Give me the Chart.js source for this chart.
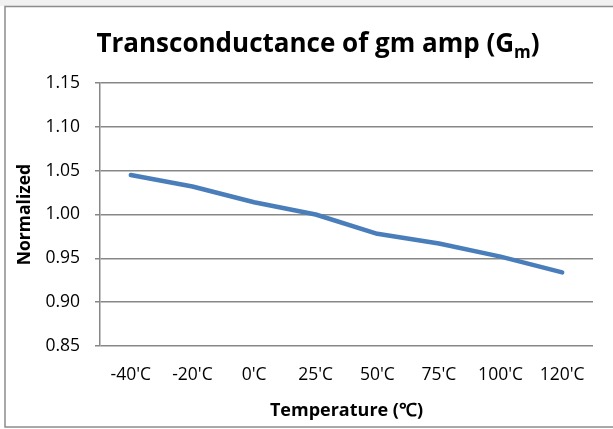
<!DOCTYPE html>
<html><head><meta charset="utf-8">
<script src="https://cdn.jsdelivr.net/npm/chart.js@4"></script>
<style>html,body{margin:0;padding:0;background:#fff}#wrap{width:613px;height:429px;position:relative}</style>
</head><body><div id="wrap"><canvas id="c" width="613" height="429"></canvas></div>
<script>
const categories = ["-40'C","-20'C","0'C","25'C","50'C","75'C","100'C","120'C"];
const normalized = [1.045,1.032,1.014,1.000,0.978,0.967,0.952,0.934];
const yTickValues = [0.85,0.90,0.95,1.00,1.05,1.10,1.15];
const titleMain = "Transconductance of gm amp (G";
const titleSub = "m";
const titleEnd = ")";
const xTitle = "Temperature (\u2103)";
const yTitle = "Normalized";

const FONT = "'Open Sans', sans-serif";
const GRID = '#878787';

const framePlugin = {
  id: 'frame',
  beforeDraw(chart) {
    const ctx = chart.ctx;
    ctx.save();
    ctx.fillStyle = '#fff';
    ctx.fillRect(0, 0, chart.width, chart.height);
    ctx.fillStyle = '#f1f1f1';
    ctx.fillRect(0, 0, chart.width, 6);
    ctx.strokeStyle = '#8c8c8c';
    ctx.lineWidth = 1.5;
    ctx.strokeRect(5, 6.5, 700, 420.5);
    ctx.restore();
  },
  afterDraw(chart) {
    const ctx = chart.ctx;
    ctx.save();
    ctx.fillStyle = '#000';
    ctx.textBaseline = 'alphabetic';
    const big = "bold 26px " + FONT;
    const small = "bold 17px " + FONT;
    ctx.font = big;
    const w1 = ctx.measureText(titleMain).width;
    const w3 = ctx.measureText(titleEnd).width;
    ctx.font = small;
    const w2 = ctx.measureText(titleSub).width;
    const total = w1 + w2 + w3;
    let x = 318 - total / 2;
    const base = 52;
    ctx.font = big;
    ctx.fillText(titleMain, x, base);
    x += w1;
    ctx.font = small;
    ctx.fillText(titleSub, x, base + 6);
    x += w2;
    ctx.font = big;
    ctx.fillText(titleEnd, x, base);
    ctx.restore();
  }
};

new Chart(document.getElementById('c'), {
  type: 'line',
  data: {
    labels: categories,
    datasets: [{
      data: normalized,
      borderColor: '#4a7ebb',
      borderWidth: 4.5,
      pointRadius: 0,
      tension: 0,
      borderCapStyle: 'round',
      borderJoinStyle: 'round',
      fill: false
    }]
  },
  options: {
    responsive: false,
    animation: false,
    devicePixelRatio: 1,
    layout: { padding: { top: 83, right: 20, left: 0, bottom: 0 } },
    plugins: { legend: { display: false }, title: { display: false }, tooltip: { enabled: false } },
    scales: {
      x: {
        offset: true,
        grid: { display: false, drawTicks: false },
        border: { display: false },
        ticks: { font: { family: FONT, size: 17.5 }, color: '#000', padding: 19, maxRotation: 0, autoSkip: false },
        title: { display: true, text: xTitle, font: { family: FONT, size: 18, weight: 'bold' }, color: '#000', padding: { top: 0, bottom: 7 } },
        afterFit(s) { s.height = 83; }
      },
      y: {
        min: 0.85, max: 1.15,
        afterBuildTicks(s) { s.ticks = yTickValues.map(v => ({ value: v })); },
        ticks: { font: { family: FONT, size: 17.5 }, color: '#000', padding: 15, callback: v => Number(v).toFixed(2) },
        grid: { color: GRID, lineWidth: 1.5, tickLength: 5, tickColor: GRID },
        border: { display: true, color: GRID, width: 1.5 },
        title: { display: true, text: yTitle, font: { family: FONT, size: 17.5, weight: 'bold' }, color: '#000', padding: { top: 15, bottom: 0 } },
        afterFit(s) { s.width = 100; }
      }
    }
  },
  plugins: [framePlugin]
});
</script>
</body></html>
